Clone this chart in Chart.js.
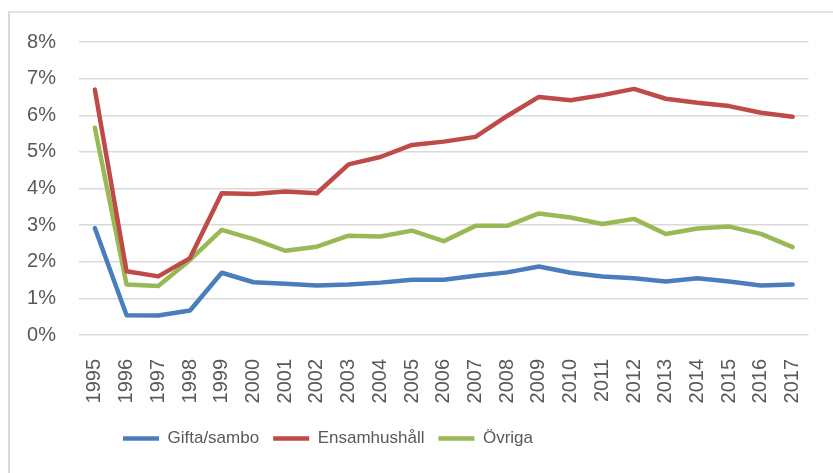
<!DOCTYPE html>
<html lang="sv">
<head>
  <meta charset="UTF-8" />
  <title>Andel per hushållstyp</title>
  <script src="https://cdn.jsdelivr.net/npm/chart.js"></script>
  <style>
    html, body { margin: 0; padding: 0; background: #fff; }
    #wrap { position: relative; width: 833px; height: 473px; overflow: hidden; }
    #frame { position: absolute; left: 8px; top: 11px; width: 900px; height: 600px;
             border-left: 2px solid #d9d9d9; border-top: 2px solid #e3e3e3; pointer-events: none; }
    canvas { position: absolute; left: 0; top: 0; }
  </style>
</head>
<body>
  <div id="wrap">
    <canvas id="chart" width="833" height="473"></canvas>
    <div id="frame"></div>
  </div>

  <script>
    const years = ['1995','1996','1997','1998','1999','2000','2001','2002','2003','2004','2005',
                   '2006','2007','2008','2009','2010','2011','2012','2013','2014','2015','2016','2017'];

    // andel i procent
    const giftaSambo = [2.92, 0.54, 0.53, 0.67, 1.70, 1.44, 1.40, 1.35, 1.38, 1.43, 1.51,
                        1.51, 1.62, 1.71, 1.87, 1.70, 1.60, 1.55, 1.46, 1.55, 1.46, 1.35, 1.38];
    const ensamhushall = [6.70, 1.74, 1.60, 2.10, 3.87, 3.85, 3.92, 3.87, 4.66, 4.86, 5.19,
                          5.28, 5.41, 5.98, 6.50, 6.41, 6.55, 6.72, 6.45, 6.34, 6.25, 6.07, 5.96];
    const ovriga = [5.66, 1.38, 1.34, 2.05, 2.87, 2.62, 2.30, 2.41, 2.71, 2.69, 2.85,
                    2.56, 2.98, 2.98, 3.32, 3.21, 3.03, 3.17, 2.76, 2.91, 2.96, 2.76, 2.40];

    const yTicks = [0, 1, 2, 3, 4, 5, 6, 7, 8];

    const txt = '#595959';
    const gridCol = '#d9d9d9';

    function line(label, data, color) {
      return {
        label: label, data: data,
        borderColor: color, backgroundColor: color,
        borderWidth: 4.5, pointRadius: 0, tension: 0,
        borderCapStyle: 'round', borderJoinStyle: 'round',
        pointStyle: 'line'
      };
    }

    // the legend in the original sits left of centre
    const legendShift = {
      id: 'legendShift',
      afterLayout(chart) {
        const lg = chart.legend;
        const w = lg.right - lg.left;
        lg.left = 123 - lg.options.labels.padding;
        lg.right = lg.left + w;
      }
    };

    new Chart(document.getElementById('chart'), {
      type: 'line',
      data: {
        labels: years,
        datasets: [
          line('Gifta/sambo', giftaSambo, '#4a7ebb'),
          line('Ensamhushåll', ensamhushall, '#be4b48'),
          line('Övriga', ovriga, '#98b954')
        ]
      },
      plugins: [legendShift],
      options: {
        responsive: false,
        animation: false,
        layout: { padding: { left: 0, right: 17, top: 42, bottom: 16 } },
        scales: {
          x: {
            offset: true,
            grid: { display: false },
            border: { display: false },
            ticks: { color: txt, font: { family: 'Liberation Sans', size: 20 },
                     minRotation: 90, maxRotation: 90, padding: 16, autoSkip: false },
            afterFit: s => { s.height = 81; }
          },
          y: {
            min: 0, max: 8,
            afterBuildTicks: s => { s.ticks = yTicks.map(v => ({ value: v })); },
            grid: { color: gridCol, lineWidth: 1.5, drawTicks: false },
            border: { display: false },
            ticks: { color: txt, font: { family: 'Liberation Sans', size: 20 }, padding: 23,
                     callback: v => v + '%' },
            afterFit: s => { s.width = 79; }
          }
        },
        plugins: {
          tooltip: { enabled: false },
          legend: {
            position: 'bottom',
            align: 'start',
            labels: {
              usePointStyle: true, pointStyleWidth: 36,
              color: txt, padding: 14,
              font: { family: 'Liberation Sans', size: 17 }
            }
          }
        }
      }
    });
  </script>
</body>
</html>
